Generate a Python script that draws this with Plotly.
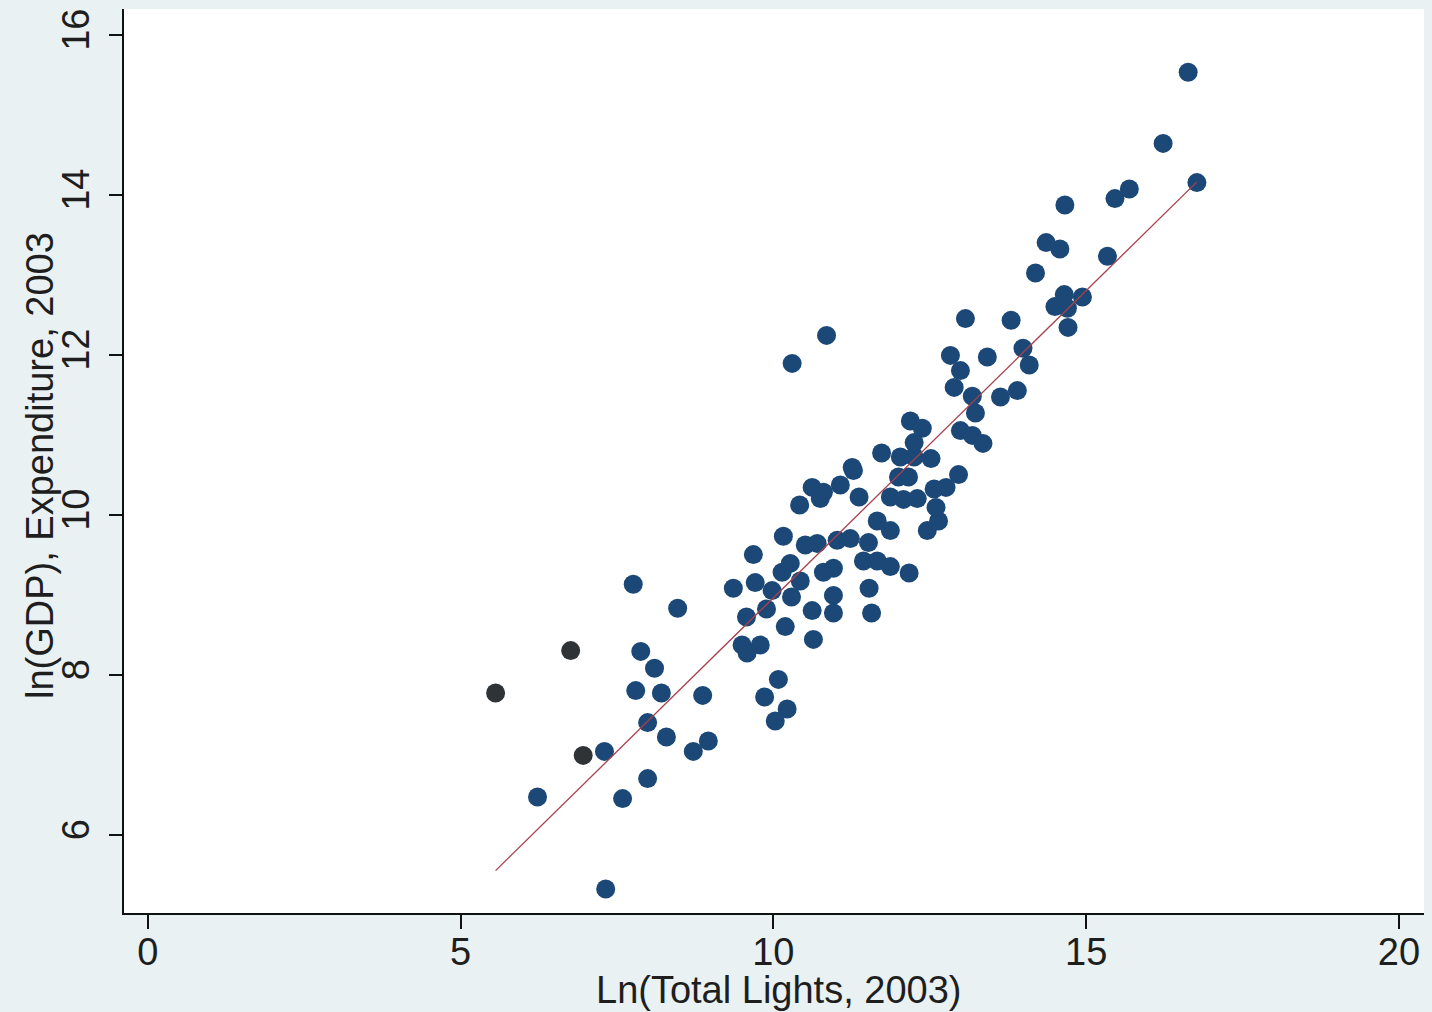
import plotly.graph_objects as go

# Ln(Total Lights, 2003)
lights = [5.56, 6.76, 6.96, 6.23, 7.30, 7.59, 7.99, 7.32, 7.76, 8.47,
          7.88, 8.10, 7.80, 8.21, 7.99, 8.29, 8.87, 8.96, 8.72, 9.36,
          9.68, 9.71, 9.57, 9.89, 9.50, 9.58, 9.79, 10.19, 10.62, 10.64,
          10.08, 9.86, 10.22, 10.03, 10.96, 10.96, 11.53, 11.57, 10.29, 9.98,
          10.14, 10.27, 10.43, 10.80, 10.96, 11.44, 11.66, 11.87, 12.17, 10.16,
          10.51, 10.70, 11.02, 11.23, 11.52, 11.66, 11.87, 12.46, 12.64, 12.60,
          10.42, 10.75, 10.62, 10.80, 11.07, 11.28, 11.37, 11.87, 12.08, 12.30,
          12.57, 12.76, 11.73, 12.03, 12.25, 12.52, 11.26, 12.00, 12.16, 12.96,
          12.19, 12.38, 12.25, 12.99, 13.18, 13.35, 13.23, 13.18, 12.89, 13.63,
          13.90, 12.99, 12.83, 13.42, 13.99, 14.09, 13.07, 13.80, 14.71, 14.65,
          14.94, 14.50, 14.70, 14.19, 14.36, 14.58, 15.34, 14.66, 15.46, 15.69,
          16.23, 16.63, 16.77, 10.85, 10.30]

# ln(GDP), Expenditure, 2003
gdp = [7.78, 8.31, 7.00, 6.48, 7.05, 6.46, 6.71, 5.33, 9.14, 8.84,
       8.30, 8.09, 7.81, 7.78, 7.41, 7.23, 7.75, 7.18, 7.05, 9.09,
       9.51, 9.16, 8.73, 8.83, 8.38, 8.28, 8.38, 8.61, 8.81, 8.45,
       7.95, 7.73, 7.58, 7.43, 9.00, 8.78, 9.09, 8.78, 8.98, 9.06,
       9.29, 9.40, 9.18, 9.29, 9.34, 9.43, 9.43, 9.36, 9.28, 9.74,
       9.63, 9.65, 9.69, 9.71, 9.66, 9.93, 9.81, 9.81, 9.93, 10.10,
       10.13, 10.21, 10.35, 10.29, 10.38, 10.56, 10.23, 10.23, 10.20, 10.21,
       10.33, 10.35, 10.78, 10.73, 10.73, 10.71, 10.60, 10.48, 10.48, 10.51,
       11.18, 11.09, 10.91, 11.06, 11.00, 10.90, 11.28, 11.49, 11.60, 11.48,
       11.56, 11.81, 12.00, 11.98, 12.09, 11.88, 12.46, 12.44, 12.35, 12.76,
       12.73, 12.61, 12.59, 13.03, 13.41, 13.33, 13.24, 13.88, 13.96, 14.08,
       14.65, 15.54, 14.16, 12.25, 11.90]

# group: 1 = dark grey observations, 0 = regular navy observations
group = [1, 1, 1] + [0] * (len(lights) - 3)

# fitted regression line
fit_intercept = 1.29
fit_slope = 0.768

x_ticks = [0, 5, 10, 15, 20]
y_ticks = [6, 8, 10, 12, 14, 16]

x_title = "Ln(Total Lights, 2003)"
y_title = "ln(GDP), Expenditure, 2003"

NAVY = "#1b4877"
DARK = "#2f3336"

fig = go.Figure()

xs_main = [x for x, g in zip(lights, group) if g == 0]
ys_main = [y for y, g in zip(gdp, group) if g == 0]
xs_dark = [x for x, g in zip(lights, group) if g == 1]
ys_dark = [y for y, g in zip(gdp, group) if g == 1]

fig.add_trace(go.Scatter(x=xs_main, y=ys_main, mode="markers",
                         marker=dict(size=19, color=NAVY, line=dict(width=0)),
                         showlegend=False))
fig.add_trace(go.Scatter(x=xs_dark, y=ys_dark, mode="markers",
                         marker=dict(size=19, color=DARK, line=dict(width=0)),
                         showlegend=False))

x_lo, x_hi = min(lights), max(lights)
fig.add_trace(go.Scatter(x=[x_lo, x_hi],
                         y=[fit_intercept + fit_slope * x_lo, fit_intercept + fit_slope * x_hi],
                         mode="lines", line=dict(color="#a8404c", width=1.3),
                         showlegend=False))

font_family = "Arial, Liberation Sans, sans-serif"
FS = 38

fig.update_layout(
    width=1432, height=1012,
    margin=dict(l=124, r=8, t=9, b=99),
    paper_bgcolor="#e9f1f3",
    plot_bgcolor="#ffffff",
    font=dict(family=font_family, size=FS, color="#1e1e1e"),
    xaxis=dict(
        range=[-0.38, 20.4], tickvals=x_ticks, ticktext=[str(t) for t in x_ticks],
        showline=True, linecolor="#111111", linewidth=2,
        ticks="outside", ticklen=14, tickwidth=1.5, tickcolor="#111111",
        showgrid=False, zeroline=False, automargin=False,
        tickfont=dict(size=FS),
    ),
    yaxis=dict(
        range=[5.03, 16.33], tickvals=y_ticks, ticktext=[str(t) for t in y_ticks],
        showline=True, linecolor="#111111", linewidth=2,
        ticks="outside", ticklen=13, tickwidth=1.5, tickcolor="#111111",
        showgrid=False, zeroline=False, automargin=False,
        tickangle=-90, tickfont=dict(size=FS), ticklabelstandoff=5,
    ),
    annotations=[
        dict(text=x_title, xref="paper", yref="paper", x=(778 - 124) / 1300,
             y=-(990 - 913) / 904, xanchor="center", yanchor="middle",
             showarrow=False, font=dict(size=FS)),
        dict(text=y_title, xref="paper", yref="paper", x=-(124 - 40) / 1300,
             y=(913 - 466) / 904, xanchor="center", yanchor="middle",
             textangle=-90, showarrow=False, font=dict(size=FS)),
    ],
)

try:
    fig.update_xaxes(ticklabelstandoff=-10)
except ValueError:
    fig.update_xaxes(ticklabelstandoff=0)

fig.write_html("out.html", config={"displayModeBar": False},
               post_script="document.body.style.margin='0';")
